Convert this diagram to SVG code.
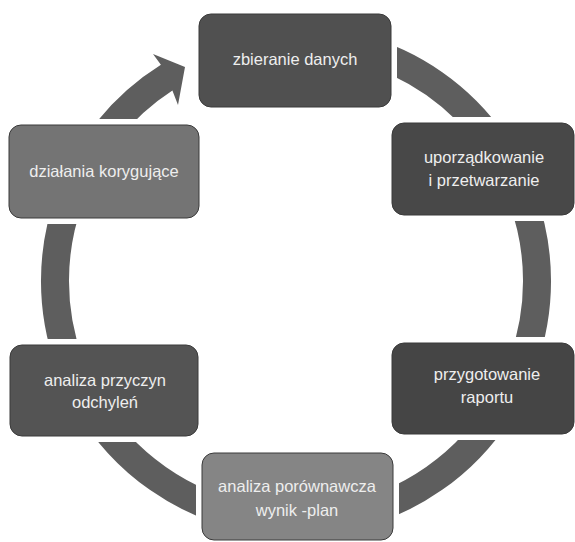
<svg xmlns="http://www.w3.org/2000/svg" width="575" height="542" viewBox="0 0 575 542">
<style>
.node rect{rx:12;ry:12;stroke:#3a3a3a;stroke-width:1}
.node text{font-family:"Liberation Sans",Arial,sans-serif;font-size:16.5px;fill:#eeeeee;text-anchor:middle}
.arc{fill:none;stroke:#5e5e5e;stroke-width:28}
</style>
<defs>
<mask id="gaps" maskUnits="userSpaceOnUse" x="0" y="0" width="575" height="542">
<rect x="0" y="0" width="575" height="542" fill="#fff"/>
<rect x="193" y="8" width="204" height="105" fill="#000"/>
<rect x="386" y="117" width="194" height="104" fill="#000"/>
<rect x="3" y="119" width="202" height="105" fill="#000"/>
<rect x="4" y="339" width="200" height="103" fill="#000"/>
<rect x="386" y="337" width="194" height="103" fill="#000"/>
<rect x="196" y="447" width="203" height="100" fill="#000"/>
</mask>
</defs>
<rect width="575" height="542" fill="#fff"/>
<g id="connectors" mask="url(#gaps)">
<path class="arc" d="M358.4,48.2 A241,241 0 0 1 493.4,142.8"/>
<path class="arc" d="M522.5,198.6 A241,241 0 0 1 522.5,363.4"/>
<path class="arc" d="M504.7,401.5 A241,241 0 0 1 337.8,518.3"/>
<path class="arc" d="M254.2,518.3 A241,241 0 0 1 87.3,401.5"/>
<path class="arc" d="M69.5,363.4 A241,241 0 0 1 69.5,198.6"/>
<path d="M56.4,193.8 A255,255 0 0 1 160.9,64.8 L153,54 L185,67 L178,105 L172.4,90.6 A227,227 0 0 0 82.7,203.4 Z" fill="#5e5e5e"/>
</g>
<g id="node1" class="node"><rect x="199" y="14" width="192" height="93" fill="#505050"/><text x="295" y="65">zbieranie danych</text></g>
<g id="node2" class="node"><rect x="392" y="123" width="182" height="92" fill="#484848"/><text x="484" y="163">uporządkowanie</text><text x="484" y="186">i przetwarzanie</text></g>
<g id="node3" class="node"><rect x="9" y="125" width="190" height="93" fill="#747474"/><text x="104" y="177">działania korygujące</text></g>
<g id="node4" class="node"><rect x="10" y="345" width="188" height="91" fill="#545454"/><text x="105" y="386">analiza przyczyn</text><text x="105" y="408">odchyleń</text></g>
<g id="node5" class="node"><rect x="392" y="343" width="182" height="91" fill="#454545"/><text x="487" y="380">przygotowanie</text><text x="487" y="403">raportu</text></g>
<g id="node6" class="node"><rect x="202" y="453" width="191" height="87" fill="#858585"/><text x="297" y="492">analiza porównawcza</text><text x="297" y="516">wynik -plan</text></g>
</svg>
